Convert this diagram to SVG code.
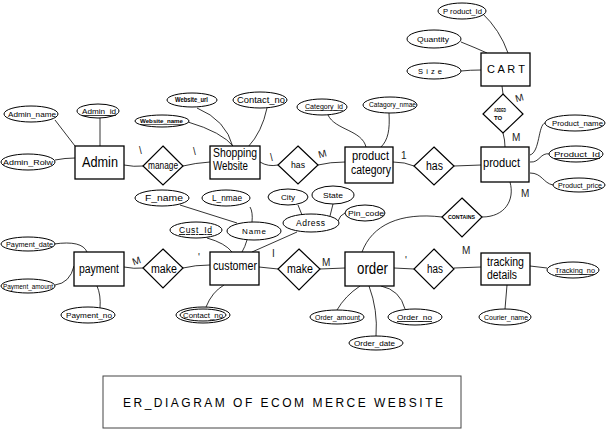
<svg xmlns="http://www.w3.org/2000/svg" width="607" height="430" viewBox="0 0 607 430">
<style>
.ent{fill:#fff;stroke:#000;stroke-width:1.3}
.rel{fill:#fff;stroke:#000;stroke-width:1.2}
.att{fill:#fff;stroke:#000;stroke-width:1}
.ln{fill:none;stroke:#000;stroke-width:0.8}
text{font-family:"Liberation Sans","Open Sans",sans-serif;fill:#000}
.e{font-size:12.5px}
.r{font-size:11px}
.a{font-size:7.5px}
.s{font-size:6px;font-weight:bold}
.u{text-decoration:underline}
.c{font-size:10px;fill:#222}
</style>
<rect width="607" height="430" fill="#fff"/>
<g id="connectors">
<path class="ln" d="M55,120 L75,146"/>
<path class="ln" d="M100,118 L100,146"/>
<path class="ln" d="M55,160 Q65,158 75,158"/>
<path class="ln" d="M124,165 Q134,167 143,166"/>
<path class="ln" d="M183,166 Q195,163 210,162"/>
<path class="ln" d="M188,122 Q222,132 234,147"/>
<path class="ln" d="M197,108 Q226,120 233,147"/>
<path class="ln" d="M267,108 Q262,132 248,147"/>
<path class="ln" d="M260,162 Q268,167 278,165"/>
<path class="ln" d="M318,165 Q330,162 345,162"/>
<path class="ln" d="M328,115 C335,130 362,130 366,147"/>
<path class="ln" d="M389,113 C390,130 388,140 381,147"/>
<path class="ln" d="M393,162 Q405,162 414,166"/>
<path class="ln" d="M454,166 L481,165"/>
<path class="ln" d="M482,13 Q500,30 508,53"/>
<path class="ln" d="M461,42 Q476,48 487,53"/>
<path class="ln" d="M461,71 Q470,70 481,70"/>
<path class="ln" d="M502,86 L503,94"/>
<path class="ln" d="M503,133 Q505,140 505,147"/>
<path class="ln" d="M545,123 C538,125 540,152 530,155"/>
<path class="ln" d="M550,154 C540,152 540,163 530,162"/>
<path class="ln" d="M553,185 C543,183 542,173 530,173"/>
<path class="ln" d="M510,182 C515,200 505,217 482,217"/>
<path class="ln" d="M442,217 C400,212 372,225 362,252"/>
<path class="ln" d="M180,205 L237,223"/>
<path class="ln" d="M250,207 Q253,212 252,222"/>
<path class="ln" d="M298,205 L302,215"/>
<path class="ln" d="M333,204 L330,216"/>
<path class="ln" d="M345,213 Q340,215 338,221"/>
<path class="ln" d="M207,238 Q225,243 232,252"/>
<path class="ln" d="M247,240 Q245,247 242,252"/>
<path class="ln" d="M297,232 L252,252"/>
<path class="ln" d="M54,244 Q82,240 87,252"/>
<path class="ln" d="M55,285 Q70,283 74,266"/>
<path class="ln" d="M100,308 Q101,295 97,286"/>
<path class="ln" d="M124,267 Q134,269 143,268"/>
<path class="ln" d="M183,268 Q195,265 210,265"/>
<path class="ln" d="M206,307 Q212,292 224,285"/>
<path class="ln" d="M259,267 L278,269"/>
<path class="ln" d="M320,269 L345,268"/>
<path class="ln" d="M394,268 L414,269"/>
<path class="ln" d="M454,268 L481,267"/>
<path class="ln" d="M530,266 L547,268"/>
<path class="ln" d="M507,285 L505,309"/>
<path class="ln" d="M360,286 Q345,296 337,310"/>
<path class="ln" d="M369,286 Q378,310 376,336"/>
<path class="ln" d="M381,286 Q400,290 405,309"/>
</g>
<g id="cardinality">
<text class="c" x="139" y="154">\</text>
<text class="c" x="193" y="155">\</text>
<text class="c" x="270" y="161">\</text>
<text class="c" x="318" y="157" transform="rotate(-15 323 153)">M</text>
<text class="c" x="401" y="159">1</text>
<text class="c" x="515" y="101" transform="rotate(-15 520 97)">M</text>
<text class="c" x="512" y="141">M</text>
<text class="c" x="521" y="197">M</text>
<text class="c" x="132" y="264" transform="rotate(-20 137 260)">M</text>
<text class="c" x="198" y="261">'</text>
<text class="c" x="272" y="257">I</text>
<text class="c" x="322" y="266">M</text>
<text class="c" x="405" y="264">'</text>
<text class="c" x="462" y="254">M</text>
</g>
<g id="Admin"><rect class="ent" x="75" y="146" width="49" height="33"/><text class="e" x="82" y="167" style="font-size:14px" textLength="36" lengthAdjust="spacingAndGlyphs">Admin</text></g>
<g id="ShoppingWebsite"><rect class="ent" x="210" y="146" width="50" height="33"/><text class="e" x="213" y="157" textLength="44" lengthAdjust="spacingAndGlyphs">Shopping</text><text class="e" x="213" y="170" textLength="35" lengthAdjust="spacingAndGlyphs">Website</text></g>
<g id="ProductCategory"><rect class="ent" x="345" y="147" width="48" height="36"/><text class="e" x="352" y="160" textLength="37" lengthAdjust="spacingAndGlyphs">product</text><text class="e" x="351" y="174" textLength="40" lengthAdjust="spacingAndGlyphs">category</text></g>
<g id="Product"><rect class="ent" x="481" y="147" width="48" height="35"/><text class="e" x="483" y="167" style="font-size:13px" textLength="37" lengthAdjust="spacingAndGlyphs">product</text></g>
<g id="Cart"><rect class="ent" x="481" y="53" width="49" height="33"/><text class="r" x="487" y="73" textLength="38" lengthAdjust="spacing">C A R T</text></g>
<g id="Payment"><rect class="ent" x="74" y="252" width="50" height="34"/><text class="e" x="79" y="273" textLength="40" lengthAdjust="spacingAndGlyphs">payment</text></g>
<g id="Customer"><rect class="ent" x="210" y="252" width="49" height="33"/><text class="e" x="213" y="270" textLength="44" lengthAdjust="spacingAndGlyphs">customer</text></g>
<g id="Order"><rect class="ent" x="345" y="252" width="49" height="34"/><text class="e" x="357" y="274" style="font-size:16px" textLength="31" lengthAdjust="spacingAndGlyphs">order</text></g>
<g id="TrackingDetails"><rect class="ent" x="481" y="253" width="49" height="32"/><text class="e" x="487" y="266" textLength="37" lengthAdjust="spacingAndGlyphs">tracking</text><text class="e" x="487" y="279" textLength="30" lengthAdjust="spacingAndGlyphs">details</text></g>
<g id="manage"><polygon class="rel" points="163,146 183,166 163,185 143,166"/><text class="r" x="148" y="169" style="font-size:10px" textLength="30" lengthAdjust="spacingAndGlyphs">manage</text></g>
<g id="has1"><polygon class="rel" points="298,146 318,165 298,184 278,165"/><text class="r" x="291" y="168" style="font-size:9.5px" textLength="14" lengthAdjust="spacingAndGlyphs">has</text></g>
<g id="has2"><polygon class="rel" points="434,147 454,166 434,185 414,166"/><text class="r" x="426" y="170" style="font-size:12px" textLength="17" lengthAdjust="spacingAndGlyphs">has</text></g>
<g id="addedTo"><polygon class="rel" points="503,94 523,114 503,133 483,114"/><text class="s" x="494" y="112" textLength="12" lengthAdjust="spacingAndGlyphs">ADDED</text><text class="s" x="494" y="120">TO</text></g>
<g id="make1"><polygon class="rel" points="163,249 183,268 163,288 143,268"/><text class="r" x="151" y="273" style="font-size:12px" textLength="26" lengthAdjust="spacingAndGlyphs">make</text></g>
<g id="make2"><polygon class="rel" points="299,249 320,269 299,290 278,269"/><text class="r" x="287" y="273" style="font-size:12px" textLength="26" lengthAdjust="spacingAndGlyphs">make</text></g>
<g id="has3"><polygon class="rel" points="434,249 454,269 434,289 414,269"/><text class="r" x="427" y="273" style="font-size:12px" textLength="16" lengthAdjust="spacingAndGlyphs">has</text></g>
<g id="contains"><polygon class="rel" points="462,198 482,217 462,237 442,217"/><text class="s" x="448" y="219" style="font-size:5.5px" textLength="27" lengthAdjust="spacingAndGlyphs">CONTAINS</text></g>
<g id="AdminName"><ellipse class="att" cx="31" cy="114" rx="27" ry="8"/><text class="a" x="8" y="117" textLength="48" lengthAdjust="spacingAndGlyphs">Admin_name</text></g>
<g id="AdminId"><ellipse class="att" cx="98" cy="111" rx="21" ry="7"/><text class="a u" x="82" y="114" textLength="34" lengthAdjust="spacingAndGlyphs">Admin_id</text></g>
<g id="AdminRolw"><ellipse class="att" cx="28" cy="162" rx="27" ry="8"/><text class="a" x="3" y="165" textLength="50" lengthAdjust="spacingAndGlyphs">Admin_Rolw</text></g>
<g id="WebsiteName"><ellipse class="att" cx="162" cy="121" rx="27" ry="6"/><text class="s u" x="140" y="123" textLength="43" lengthAdjust="spacingAndGlyphs">Website_name</text></g>
<g id="WebsiteUrl"><ellipse class="att" cx="192" cy="100" rx="25" ry="7"/><text class="s" x="175" y="102" style="font-size:6.5px" textLength="33" lengthAdjust="spacingAndGlyphs">Website_url</text></g>
<g id="ContactNoTop"><ellipse class="att" cx="260" cy="100" rx="27" ry="8"/><text class="a" x="237" y="103" style="font-size:8.5px" textLength="48" lengthAdjust="spacingAndGlyphs">Contact_no</text></g>
<g id="CategoryId"><ellipse class="att" cx="322" cy="107" rx="25" ry="8"/><text class="a u" x="305" y="109" style="font-size:6.5px" textLength="38" lengthAdjust="spacingAndGlyphs">Category_id</text></g>
<g id="CatagoryNmae"><ellipse class="att" cx="390" cy="105" rx="27" ry="8"/><text class="a" x="369" y="107" style="font-size:6.5px" textLength="47" lengthAdjust="spacingAndGlyphs">Catagory_nmae</text></g>
<g id="CartProductId"><ellipse class="att" cx="462" cy="11" rx="24" ry="8"/><text class="a" x="443" y="14" textLength="39" lengthAdjust="spacingAndGlyphs">P roduct_Id</text></g>
<g id="Quantity"><ellipse class="att" cx="434" cy="39" rx="27" ry="9"/><text class="a" x="417" y="42" textLength="32" lengthAdjust="spacingAndGlyphs">Quantity</text></g>
<g id="Size"><ellipse class="att" cx="434" cy="71" rx="27" ry="8"/><text class="a" x="418" y="74" textLength="24" lengthAdjust="spacing">S i z e</text></g>
<g id="ProductName"><ellipse class="att" cx="575" cy="123" rx="30" ry="8"/><text class="a" x="552" y="126" style="font-size:7px" textLength="51" lengthAdjust="spacingAndGlyphs">Product_name</text></g>
<g id="ProductId"><ellipse class="att" cx="576" cy="154" rx="27" ry="8"/><text class="a u" x="554" y="157" style="font-size:8px" textLength="46" lengthAdjust="spacingAndGlyphs">Product_Id</text></g>
<g id="ProductPrice"><ellipse class="att" cx="579" cy="185" rx="26" ry="7"/><text class="a" x="558" y="188" style="font-size:7px" textLength="44" lengthAdjust="spacingAndGlyphs">Product_price</text></g>
<g id="FName"><ellipse class="att" cx="162" cy="198" rx="27" ry="8"/><text class="a" x="145" y="201" style="font-size:8.5px" textLength="38" lengthAdjust="spacingAndGlyphs">F_name</text></g>
<g id="LNmae"><ellipse class="att" cx="226" cy="198" rx="24" ry="8"/><text class="a" x="212" y="201" style="font-size:8.5px" textLength="30" lengthAdjust="spacingAndGlyphs">L_nmae</text></g>
<g id="City"><ellipse class="att" cx="288" cy="197" rx="20" ry="8"/><text class="a" x="281" y="200" textLength="14" lengthAdjust="spacingAndGlyphs">City</text></g>
<g id="State"><ellipse class="att" cx="333" cy="195" rx="21" ry="9"/><text class="a" x="323" y="198" textLength="20" lengthAdjust="spacingAndGlyphs">State</text></g>
<g id="PinCode"><ellipse class="att" cx="365" cy="213" rx="20" ry="8"/><text class="a" x="348" y="216" textLength="36" lengthAdjust="spacingAndGlyphs">Pin_code</text></g>
<g id="Adress"><ellipse class="att" cx="311" cy="223" rx="28" ry="9"/><text class="a" x="296" y="226" style="font-size:8.5px" textLength="29" lengthAdjust="spacing">Adress</text></g>
<g id="CustId"><ellipse class="att" cx="196" cy="230" rx="26" ry="8"/><text class="a u" x="179" y="233" style="font-size:8.5px" textLength="33" lengthAdjust="spacing">Cust_Id</text></g>
<g id="Name"><ellipse class="att" cx="254" cy="231" rx="27" ry="9"/><text class="a" x="242" y="234" style="font-size:8px" textLength="24" lengthAdjust="spacing">Name</text></g>
<g id="PaymentDate"><ellipse class="att" cx="28" cy="244" rx="27" ry="7"/><text class="a" x="6" y="247" style="font-size:7px" textLength="47" lengthAdjust="spacingAndGlyphs">Payment_date</text></g>
<g id="PaymentAmount"><ellipse class="att" cx="28" cy="286" rx="27" ry="7"/><text class="a" x="3" y="289" style="font-size:6.5px" textLength="50" lengthAdjust="spacingAndGlyphs">Payment_amount</text></g>
<g id="PaymentNo"><ellipse class="att" cx="88" cy="315" rx="27" ry="8"/><text class="a" x="66" y="318" textLength="46" lengthAdjust="spacingAndGlyphs">Payment_no</text></g>
<g id="ContactNo"><ellipse class="att" cx="203" cy="315" rx="27" ry="8"/><ellipse class="att" cx="203" cy="315" rx="23" ry="6"/><text class="a" x="183" y="318" style="font-size:7px" textLength="40" lengthAdjust="spacingAndGlyphs">Contact_no</text></g>
<g id="OrderAmount"><ellipse class="att" cx="337" cy="317" rx="27" ry="7"/><text class="a" x="315" y="320" style="font-size:7px" textLength="45" lengthAdjust="spacingAndGlyphs">Order_amount</text></g>
<g id="OrderNo"><ellipse class="att" cx="415" cy="317" rx="27" ry="8"/><text class="a u" x="397" y="320" style="font-size:8px" textLength="35" lengthAdjust="spacingAndGlyphs">Order_no</text></g>
<g id="OrderDate"><ellipse class="att" cx="376" cy="343" rx="27" ry="7"/><text class="a" x="354" y="346" textLength="41" lengthAdjust="spacingAndGlyphs">Order_date</text></g>
<g id="CourierName"><ellipse class="att" cx="505" cy="317" rx="26" ry="8"/><text class="a" x="484" y="320" style="font-size:7px" textLength="44" lengthAdjust="spacingAndGlyphs">Courier_name</text></g>
<g id="TrackingNo"><ellipse class="att" cx="573" cy="270" rx="26" ry="8"/><text class="a u" x="555" y="273" style="font-size:7px" textLength="40" lengthAdjust="spacingAndGlyphs">Tracking_no</text></g>
<g id="title"><rect x="103" y="376" width="358" height="52" fill="#fff" stroke="#444" stroke-width="1"/><text x="123" y="407" style="font-size:12px" textLength="320" lengthAdjust="spacing">ER_DIAGRAM OF ECOM MERCE WEBSITE</text></g>
</svg>
